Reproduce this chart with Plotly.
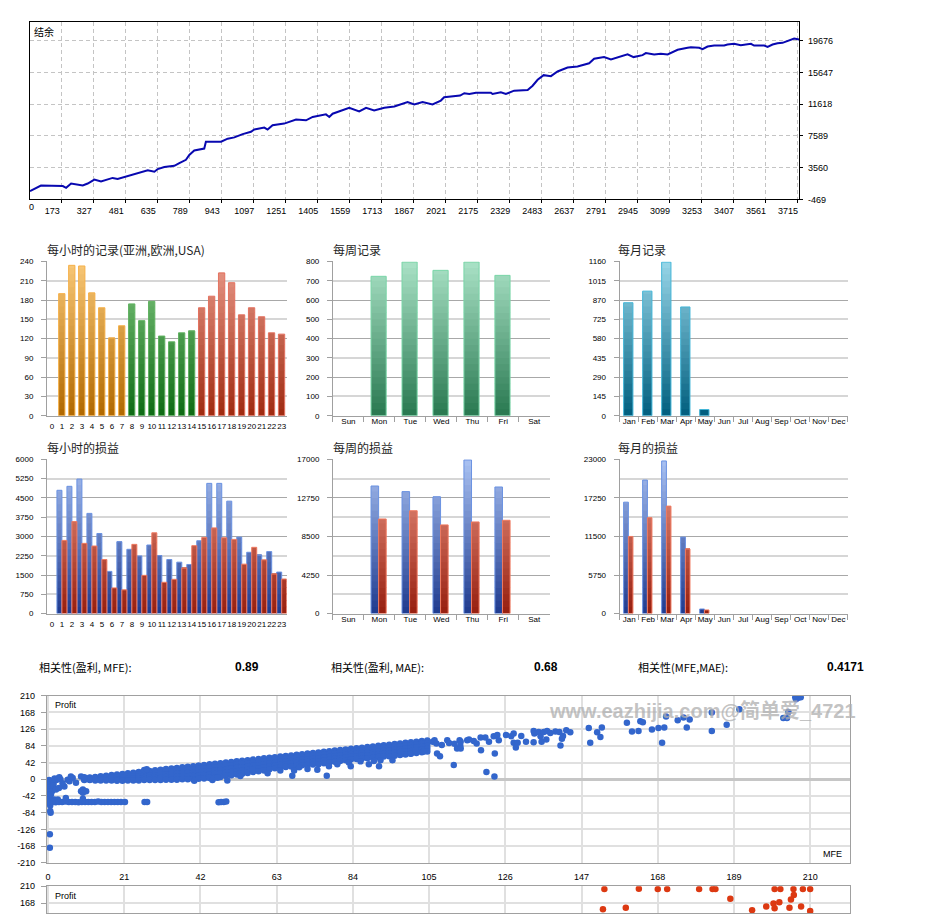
import plotly.graph_objects as go

W, H = 927, 918


def fx(p):
    return p / W


def fy(p):
    return 1 - p / H


SANS = "Liberation Sans, Arial, sans-serif"
CJK = "Noto Sans CJK SC, Noto Sans, sans-serif"

# ---------------- balance curve ----------------
BAL_TRADE = [22, 75, 180, 196, 220, 276, 300, 332, 364, 420, 444, 493, 589, 621, 637, 669, 717, 741, 773, 789,
             813, 861, 869, 885, 942, 974, 1006, 1046, 1086, 1102, 1150, 1166, 1190, 1246, 1303, 1351, 1383, 1447,
             1463, 1479, 1551, 1559, 1607, 1640, 1679, 1728, 1776, 1840, 1872, 1912, 1960, 2000, 2016, 2049, 2093,
             2113, 2137, 2169, 2241, 2249, 2289, 2313, 2353, 2418, 2442, 2466, 2495, 2530, 2562, 2610, 2658, 2714,
             2738, 2786, 2819, 2899, 2928, 2971, 2987, 3027, 3059, 3092, 3123, 3140, 3188, 3204, 3244, 3260, 3284,
             3316, 3364, 3380, 3412, 3444, 3493, 3508, 3557, 3573, 3597, 3621, 3645, 3669, 3701, 3725]
BAL_VALUE = [585, 1288, 1213, 999, 1539, 1288, 1539, 2041, 1790, 2254, 2129, 2468, 3221, 3045, 3384, 3635, 3798,
             4137, 4551, 5178, 5731, 5982, 6860, 6860, 6860, 7237, 7400, 7814, 8115, 8404, 8655, 8404, 8944, 9157,
             9659, 9571, 9998, 10324, 9998, 10412, 11040, 11165, 10700, 11165, 10826, 11165, 11328, 11880, 11579,
             11880, 11579, 12081, 12508, 12634, 12709, 13010, 12922, 13085, 13085, 12922, 13135, 12922, 13336,
             13424, 13963, 14716, 15306, 15180, 15770, 16273, 16398, 16812, 17402, 17603, 17314, 17942, 17603,
             17854, 18105, 17942, 18030, 17942, 18281, 18532, 18783, 18859, 18783, 18607, 18946, 19072, 19072,
             19197, 19285, 19109, 19285, 19072, 19072, 18908, 19197, 19360, 19411, 19611, 19950, 19825]
BAL_XTICKS = [173, 327, 481, 635, 789, 943, 1097, 1251, 1405, 1559, 1713, 1867, 2021, 2175, 2329, 2483, 2637,
              2791, 2945, 3099, 3253, 3407, 3561, 3715]
BAL_YTICKS = [-469, 3560, 7589, 11618, 15647, 19676]

# ---------------- bar charts ----------------
HOURS = [str(h) for h in range(24)]
HOUR_SESSION = ['亚洲'] * 8 + ['欧洲'] * 7 + ['USA'] * 9
HOUR_RECORDS = [0, 190, 234, 233, 191, 168, 121, 140, 174, 148, 178, 124, 115, 129, 132, 168, 186, 222, 207, 157,
                168, 154, 129, 127]
HOUR_PROFIT = [0, 4795, 4949, 5231, 3897, 3115, 1641, 2795, 2500, 2244, 2667, 2256, 2103, 2000, 1910, 2833, 5064,
               5064, 4372, 2974, 2385, 2269, 2410, 1615]
HOUR_LOSS = [0, 2846, 3577, 2731, 2628, 2103, 1000, 923, 2692, 1487, 3141, 1218, 1333, 1769, 2641, 2962, 3333,
             2949, 2885, 1923, 2577, 2090, 1538, 1346]

WEEKDAYS = ['Sun', 'Mon', 'Tue', 'Wed', 'Thu', 'Fri', 'Sat']
WEEK_RECORDS = [0, 723, 797, 754, 797, 728, 0]
WEEK_PROFIT = [0, 14058, 13440, 12859, 16927, 13949, 0]
WEEK_LOSS = [0, 10425, 11333, 9771, 10098, 10280, 0]

MONTHS = ['Jan', 'Feb', 'Mar', 'Apr', 'May', 'Jun', 'Jul', 'Aug', 'Sep', 'Oct', 'Nov', 'Dec']
MONTH_RECORDS = [850, 937, 1155, 818, 47, 0, 0, 0, 0, 0, 0, 0]
MONTH_PROFIT = [16611, 19904, 22754, 11402, 688, 0, 0, 0, 0, 0, 0, 0]
MONTH_LOSS = [11500, 14301, 16021, 9632, 541, 0, 0, 0, 0, 0, 0, 0]

HOUR_REC_TICKS = [0, 30, 60, 90, 120, 150, 180, 210, 240]
WEEK_REC_TICKS = [0, 100, 200, 300, 400, 500, 600, 700, 800]
MONTH_REC_TICKS = [0, 145, 290, 435, 580, 725, 870, 1015, 1160]
HOUR_PL_TICKS = [0, 750, 1500, 2250, 3000, 3750, 4500, 5250, 6000]
WEEK_PL_TICKS = [0, 4250, 8500, 12750, 17000]
MONTH_PL_TICKS = [0, 5750, 11500, 17250, 23000]

TITLES = ['每小时的记录(亚洲,欧洲,USA)', '每周记录', '每月记录', '每小时的损益', '每周的损益', '每月的损益']
CORR_LABELS = ['相关性(盈利, MFE):', '相关性(盈利, MAE):', '相关性(MFE,MAE):']
CORR_VALUES = ['0.89', '0.68', '0.4171']

# ---------------- scatter (MFE vs profit) ----------------
BAND_MFE = [10, 11.5, 13, 14.5, 16, 17.5, 19, 20.5, 22, 23.5, 25, 26.5, 28, 29.5, 31, 32.5, 34, 35.5, 37, 38.5,
            40, 41.5, 43, 44.5, 46, 47.5, 49, 50.5, 52, 53.5, 55, 56.5, 58, 59.5, 61, 62.5, 64, 65.5, 67, 68.5,
            70, 71.5, 73, 74.5, 76, 77.5, 79, 80.5, 82, 83.5, 85, 86.5, 88, 89.5, 91, 92.5, 94, 95.5, 97, 98.5,
            100, 101.5, 103, 104.5]
BAND_HI = [3, 4.5, 6, 7.5, 9, 10.5, 12, 13.5, 15, 16.5, 18, 19.5, 21, 22.5, 24, 25.5, 27, 28.5, 30, 31.5,
           33, 34.5, 36, 37.5, 39, 40.5, 42, 43.5, 45, 46.5, 48, 49.5, 51, 52.5, 54, 55.5, 57, 58.5, 60, 61.5,
           63, 64.5, 66, 67.5, 69, 70.5, 72, 73.5, 75, 76.5, 78, 79.5, 81, 82.5, 84, 85.5, 87, 88.5, 90, 91.5,
           93, 94.5, 96, 97.5]
BAND_Q3 = [1.8, 2.9, 3.8, 4.9, 6, 7.2, 8, 9.2, 10.5, 11.7, 12.8, 14.2, 15.2, 16.4, 17.5, 18.9, 20, 21.2, 22.5,
           23.7, 24.8, 26.2, 27.5, 28.9, 30.5, 31.9, 33.5, 35.2, 36.8, 38.4, 40, 41.7, 43.2, 44.9, 46.8, 48.7,
           50.2, 51.7, 53, 54.7, 56, 57.4, 58.8, 60.2, 61.8, 63.4, 65, 66.7, 68.2, 69.9, 71.2, 72.7, 74, 75.4, 77,
           78.4, 79.8, 81.2, 82.8, 84.2, 85.8, 87.4, 89, 90.7]
BAND_MID = [0.5, 1.2, 1.5, 2.2, 3, 3.8, 4, 4.8, 6, 6.8, 7.5, 8.8, 9.5, 10.2, 11, 12.2, 13, 13.8, 15, 15.8,
            16.5, 17.8, 19, 20.2, 22, 23.2, 25, 26.8, 28.5, 30.2, 32, 33.8, 35.5, 37.2, 39.5, 41.8, 43.5, 44.8,
            46, 47.8, 49, 50.2, 51.5, 52.8, 54.5, 56.2, 58, 59.8, 61.5, 63.2, 64.5, 65.8, 67, 68.2, 70, 71.2,
            72.5, 73.8, 75.5, 76.8, 78.5, 80.2, 82, 83.8]
BAND_Q1 = [-0.8, -0.4, -0.8, -0.4, 0, 0.4, 0, 0.4, 1.5, 1.9, 2.2, 3.4, 3.8, 4.1, 4.5, 5.6, 6, 6.4, 7.5, 7.9,
           8.2, 9.4, 10.5, 11.6, 13.5, 14.6, 16.5, 18.4, 20.2, 22.1, 24, 25.9, 27.8, 29.6, 32.2, 34.9, 36.8, 37.9,
           39, 40.9, 42, 43.1, 44.2, 45.4, 47.2, 49.1, 51, 52.9, 54.8, 56.6, 57.8, 58.9, 60, 61.1, 63, 64.1,
           65.2, 66.4, 68.2, 69.4, 71.2, 73.1, 75, 76.9]
BAND_LO = [-2, -2, -3, -3, -3, -3, -4, -4, -3, -3, -3, -2, -2, -2, -2, -1, -1, -1, 0, 0,
           0, 1, 2, 3, 5, 6, 8, 10, 12, 14, 16, 18, 20, 22, 25, 28, 30, 31, 32, 34,
           35, 36, 37, 38, 40, 42, 44, 46, 48, 50, 51, 52, 53, 54, 56, 57, 58, 59, 61, 62,
           64, 66, 68, 70]
NEAR_ZERO = [(0.3, -2), (0.3, -8), (0.5, -14), (0.4, -20), (0.6, -26), (0.4, -32), (0.5, -38), (0.3, -44),
             (0.5, -50), (0.5, -62), (0.6, -66), (0.6, -80), (0.7, -84), (0.5, -138), (0.5, -172), (1.2, -4),
             (1.5, -10), (1.8, 2), (2.3, -2), (2.7, 2), (1.1, -30), (1.5, -16), (2.2, -26), (0.8, -38),
             (1.7, -51), (2.7, -51), (4.9, -47), (3.1, 5), (3.4, 0), (4.5, -18), (5.4, -1), (5.9, -5), (6.3, 7),
             (6.8, 3), (7.7, -9), (9.1, -30), (9.6, -34), (9.6, -26), (10.5, -30), (9.6, -49), (9.1, 7),
             (10, 5), (4, -10), (3, -22)]
LINE_57 = [(0.3, -57), (1.2, -57), (2.1, -58), (3, -57), (3.9, -57), (4.8, -56), (5.7, -57), (6.6, -57),
           (7.5, -57), (8.4, -58), (9.3, -57), (10.2, -57), (11.1, -57), (12, -57), (12.9, -57), (13.8, -56),
           (14.7, -57), (15.6, -57), (16.5, -57), (17.4, -57), (18.3, -57), (19.2, -57), (20.1, -57),
           (21.2, -57), (26.6, -57), (27.3, -57), (47, -58), (47.7, -57), (48.4, -57), (49.1, -56)]
BAND_OUT = [(26.5, 23), (27.2, 25), (40.3, -4), (44.4, 5), (45.3, -2), (46.7, 4), (49.4, -3), (52.7, 14),
            (53, 8), (56.3, 25), (60.5, 15), (64, 22), (67.3, 9), (67.8, 22), (69.2, 30), (71.5, 26),
            (74.2, 24), (76.8, 9), (77.4, 33), (79.7, 38), (82.9, 42), (83.4, 33), (86.1, 45), (88.4, 38),
            (89.8, 46), (91.2, 33), (91.6, 48), (94.9, 48), (97.2, 69), (99.9, 65), (101.3, 73), (103.4, 69),
            (106, 94), (106.5, 98), (107, 90), (107.2, 65), (108, 58), (108.5, 86), (110, 98), (110.5, 91),
            (111.8, 36), (112, 89), (112.7, 77), (113.4, 98), (113.6, 84)]
HIGH_SPARSE = [(113.7, 94), (113.7, 77), (115.5, 98), (116, 100), (117.3, 96), (118.1, 90), (119.2, 105),
               (119.3, 73), (120.5, 105), (120.8, 18), (121.5, 94), (122.8, 108), (123, 7), (123.1, 65),
               (123.8, 111), (124.2, 98), (126.2, 111), (127.6, 108), (128.3, 92), (128.3, 115), (128.9, 80),
               (129.4, 92), (130.4, 109), (131.7, 94), (133.8, 121), (134, 115), (133.8, 93), (135.2, 119),
               (135.7, 108), (136, 94), (136.6, 119), (137.3, 100), (137.5, 121), (138.4, 116), (139.8, 120),
               (140.9, 119), (141.2, 85), (141.6, 102), (141.9, 109), (142.8, 123), (143.9, 118), (149, 129),
               (149.4, 92), (151.3, 118), (152.2, 106), (152.6, 130), (159.5, 142), (160.9, 120), (162.7, 121),
               (163.2, 146), (163.9, 143), (166.4, 125), (168.2, 129), (169.2, 92), (169.8, 130), (170.3, 158),
               (173.5, 148), (175.1, 155), (176, 130), (176.8, 150), (182.9, 168), (182.9, 121), (187, 137),
               (190.5, 176), (202.6, 154), (203.6, 154), (204, 169), (205.9, 206), (206.5, 204), (207, 206),
               (207.4, 206), (206.1, 201)]
RED_POINTS = [(153.3, 203), (162.8, 204), (168, 203), (170.6, 203), (179.4, 203), (183.1, 203), (183.9, 203),
              (200.2, 203), (201.8, 203), (205.4, 203), (208, 203), (210, 203), (188, 179), (205.5, 188),
              (204.7, 177), (201.5, 170), (199.9, 167), (197.9, 159), (200.2, 155), (204.3, 156), (207.5, 159),
              (152.9, 152), (159.2, 156), (194, 150), (210, 148)]
SCAT_XTICKS = [0, 21, 42, 63, 84, 105, 126, 147, 168, 189, 210]
SCAT_YTICKS = [-210, -168, -126, -84, -42, 0, 42, 84, 126, 168, 210]
WATERMARK = 'www.eazhijia.com@简单爱_4721'

# ---------------- styles ----------------
PAL = {
    '亚洲': ((176, 104, 0), (248, 200, 120), '#f6b048'),
    '欧洲': ((14, 106, 20), (130, 200, 130), '#62b262'),
    'USA': ((158, 42, 16), (232, 152, 136), '#e47260'),
    'week': ((40, 120, 80), (170, 226, 198), '#7ad6a8'),
    'month': ((0, 94, 126), (152, 214, 232), '#44b6d8'),
    'profit': ((30, 58, 142), (170, 194, 242), '#6a92e2'),
    'loss': ((150, 30, 14), (240, 158, 140), '#f07a60'),
}
AX = '#a0a0a0'
DARK = '#a8a8a8'
LIGHT = '#d6d6d6'
K = 24

fig = go.Figure()


def mix(c0, c1, t):
    return 'rgb(%d,%d,%d)' % tuple(int(round(a + (b - a) * t)) for a, b in zip(c0, c1))


def gradient_bars(n, cats, values, ymax, pals, offset, width):
    seg_h = ymax / K
    eps = ymax / 156 * 0.8  # slight overlap between gradient bands (no seams)
    for k in range(K):
        seg = [(min(v, (k + 1) * seg_h + eps) - k * seg_h) if v > k * seg_h else None for v in values]
        t = (k + 0.5) / K
        fig.add_trace(go.Bar(x=cats, y=seg, base=[k * seg_h] * len(cats), offset=offset, width=width,
                             marker=dict(color=[mix(p[0], p[1], t) for p in pals], line=dict(width=0)),
                             xaxis='x%d' % n, yaxis='y%d' % n, hoverinfo='skip', showlegend=False))
    fig.add_trace(go.Bar(x=cats, y=[v if v > 0 else None for v in values], base=[0] * len(cats), offset=offset,
                         width=width,
                         marker=dict(color='rgba(0,0,0,0)', line=dict(color=[p[2] for p in pals], width=1)),
                         xaxis='x%d' % n, yaxis='y%d' % n, hoverinfo='skip', showlegend=False))


# balance line
fig.add_trace(go.Scatter(x=BAL_TRADE, y=BAL_VALUE, mode='lines', line=dict(color='#0808b0', width=2),
                         xaxis='x', yaxis='y', hoverinfo='skip', showlegend=False))

# bars
gradient_bars(2, HOURS, HOUR_RECORDS, HOUR_REC_TICKS[-1], [PAL[s] for s in HOUR_SESSION], -0.33, 0.63)
gradient_bars(3, WEEKDAYS, WEEK_RECORDS, WEEK_REC_TICKS[-1], [PAL['week']] * 7, -0.27, 0.49)
gradient_bars(4, MONTHS, MONTH_RECORDS, MONTH_REC_TICKS[-1], [PAL['month']] * 12, -0.29, 0.49)
gradient_bars(5, HOURS, HOUR_PROFIT, HOUR_PL_TICKS[-1], [PAL['profit']] * 24, -0.5, 0.5)
gradient_bars(5, HOURS, HOUR_LOSS, HOUR_PL_TICKS[-1], [PAL['loss']] * 24, 0.0, 0.5)
gradient_bars(6, WEEKDAYS, WEEK_PROFIT, WEEK_PL_TICKS[-1], [PAL['profit']] * 7, -0.27, 0.245)
gradient_bars(6, WEEKDAYS, WEEK_LOSS, WEEK_PL_TICKS[-1], [PAL['loss']] * 7, -0.025, 0.245)
gradient_bars(7, MONTHS, MONTH_PROFIT, MONTH_PL_TICKS[-1], [PAL['profit']] * 12, -0.29, 0.25)
gradient_bars(7, MONTHS, MONTH_LOSS, MONTH_PL_TICKS[-1], [PAL['loss']] * 12, -0.04, 0.24)

# overlay label axes need a (empty) trace each
for n in (2, 3, 4, 5):
    fig.add_trace(go.Scatter(x=[], y=[], xaxis='x%d' % n, yaxis='y%d' % (10 + n), showlegend=False,
                             hoverinfo='skip'))

# scatter
pts = (list(zip(BAND_MFE, BAND_HI)) + list(zip(BAND_MFE, BAND_Q3)) + list(zip(BAND_MFE, BAND_MID))
       + list(zip(BAND_MFE, BAND_Q1)) + list(zip(BAND_MFE, BAND_LO))
       + NEAR_ZERO + LINE_57 + BAND_OUT + HIGH_SPARSE)
fig.add_trace(go.Scatter(x=[p[0] for p in pts], y=[p[1] for p in pts], mode='markers',
                         marker=dict(size=6.5, color='#3366cc', line=dict(width=0)),
                         xaxis='x8', yaxis='y8', hoverinfo='skip', showlegend=False))
fig.add_trace(go.Scatter(x=[p[0] for p in RED_POINTS], y=[p[1] for p in RED_POINTS], mode='markers',
                         marker=dict(size=6.5, color='#dc3912', line=dict(width=0)),
                         xaxis='x9', yaxis='y9', hoverinfo='skip', showlegend=False))

layout = dict(
    width=W, height=H, margin=dict(l=0, r=0, t=0, b=0), paper_bgcolor='white', plot_bgcolor='white',
    barmode='overlay', showlegend=False, font=dict(family=SANS, size=10, color='#000'),
)

balfont = dict(family=SANS, size=9, color='#000')
layout['xaxis'] = dict(domain=[fx(29), fx(799)], anchor='y', range=[22, 3725], tickmode='array',
                       tickvals=BAL_XTICKS, ticktext=[str(v) for v in BAL_XTICKS], ticklabelshift=-9,
                       showgrid=True, gridcolor='#c4c4c4', griddash='4px,3px', gridwidth=1,
                       showline=True, linecolor='#000', linewidth=1, mirror=True, ticks='outside', ticklen=3,
                       tickcolor='#000', zeroline=False, tickfont=balfont, tickangle=0)
layout['yaxis'] = dict(domain=[fy(196.5), fy(16.7)], anchor='x', side='right', range=[-469, 22120],
                       tickmode='array', tickvals=BAL_YTICKS, ticktext=[str(v) for v in BAL_YTICKS],
                       showgrid=True, gridcolor='#c4c4c4', griddash='4px,3px', gridwidth=1,
                       showline=True, linecolor='#000', linewidth=1, mirror=True, ticks='outside', ticklen=3,
                       tickcolor='#000', zeroline=False, tickfont=balfont, ticklabelstandoff=3)

XDOMS = {2: (46, 286), 3: (332.3, 549.3), 4: (619.3, 847.7), 5: (46, 286), 6: (332.3, 549.3), 7: (619.3, 847.7)}
YDOMS = {2: (259.3, 415.3), 3: (259.3, 415.3), 4: (259.3, 415.3), 5: (459.3, 615.3), 6: (459.3, 615.3),
         7: (459.3, 615.3)}
CATS = {2: HOURS, 3: WEEKDAYS, 4: MONTHS, 5: HOURS, 6: WEEKDAYS, 7: MONTHS}
TICKS = {2: HOUR_REC_TICKS, 3: WEEK_REC_TICKS, 4: MONTH_REC_TICKS, 5: HOUR_PL_TICKS, 6: WEEK_PL_TICKS,
         7: MONTH_PL_TICKS}
tickfont = dict(family=SANS, size=8, color='#000')

for n in range(2, 8):
    cats = CATS[n]
    xa = dict(domain=[fx(XDOMS[n][0]), fx(XDOMS[n][1])], anchor='y%d' % n, type='category',
              categoryorder='array', categoryarray=cats, range=[-0.5, len(cats) - 0.5], showgrid=False,
              zeroline=False, showline=True, linecolor=AX, linewidth=1, tickfont=tickfont, tickangle=0,
              tickmode='array', tickvals=cats, ticktext=cats)
    if cats is HOURS:
        xa.update(ticks='', ticklabelstandoff=3)
    else:
        xa.update(ticks='outside', tickson='boundaries', ticklen=5, tickcolor=AX, ticklabelstandoff=-2)
    layout['xaxis%d' % n] = xa
    ticks = TICKS[n]
    ymax = ticks[-1]
    ya = dict(domain=[fy(YDOMS[n][1]), fy(YDOMS[n][0])], anchor='x%d' % n, range=[0, ymax], zeroline=False,
              showgrid=True, gridcolor=DARK, gridwidth=1)
    if n in (6, 7):
        light = [(a + b) / 2 for a, b in zip(ticks, ticks[1:])]
        ya.update(tickmode='array', tickvals=ticks, ticktext=[str(v) for v in ticks], ticks='outside',
                  ticklen=5, tickcolor=AX, showline=True, linecolor=AX, tickfont=tickfont, ticklabelstandoff=6,
                  minor=dict(tickmode='array', tickvals=light, showgrid=True, gridcolor=LIGHT, gridwidth=2,
                             ticks=''))
    else:
        ya.update(tickmode='array', tickvals=ticks[::2], showticklabels=False, ticks='', showline=False,
                  minor=dict(tickmode='array', tickvals=ticks[1::2], showgrid=True, gridcolor=LIGHT,
                             gridwidth=2, ticks=''))
        layout['yaxis%d' % (10 + n)] = dict(overlaying='y%d' % n, anchor='x%d' % n, side='left',
                                            range=[0, ymax], tickmode='array', tickvals=ticks,
                                            ticktext=[str(v) for v in ticks], ticks='outside', ticklen=5,
                                            tickcolor=AX, showgrid=False, showline=True, linecolor=AX,
                                            zeroline=False, tickfont=tickfont, ticklabelstandoff=6)
    layout['yaxis%d' % n] = ya

sfont = dict(family=SANS, size=9, color='#000')
layout['xaxis8'] = dict(domain=[fx(46), fx(850)], anchor='y8', range=[-0.3, 221], tickmode='array',
                        tickvals=SCAT_XTICKS, ticktext=[str(v) for v in SCAT_XTICKS], showgrid=True,
                        gridcolor='#e0e0e0', gridwidth=2, zeroline=False, showline=True, linecolor=AX,
                        mirror=True, ticks='', tickfont=sfont, ticklabelstandoff=5)
layout['yaxis8'] = dict(domain=[fy(867.3), fy(698.3)], anchor='x8', range=[-210, 210], tickmode='array',
                        tickvals=SCAT_YTICKS, ticktext=[str(v) for v in SCAT_YTICKS], showgrid=True,
                        gridcolor='#e0e0e0', gridwidth=2, zeroline=True, zerolinecolor='#c6c6c6',
                        zerolinewidth=3, showline=True, linecolor=AX, mirror=True, ticks='outside', ticklen=5,
                        tickcolor=AX, tickfont=sfont, ticklabelstandoff=4)
layout['xaxis9'] = dict(domain=[fx(46), fx(850)], anchor='y9', range=[-0.3, 221], tickmode='array',
                        tickvals=SCAT_XTICKS, showticklabels=False, showgrid=True, gridcolor='#e0e0e0',
                        gridwidth=2, zeroline=False, showline=True, linecolor=AX, mirror=True, ticks='')
layout['yaxis9'] = dict(domain=[0, fy(891)], anchor='x9', range=[142.9, 210], tickmode='array',
                        tickvals=[168, 210], ticktext=['168', '210'], showgrid=True, gridcolor='#e0e0e0',
                        gridwidth=2, zeroline=False, showline=True, linecolor=AX, mirror=True, ticks='outside',
                        ticklen=5, tickcolor=AX, tickfont=sfont, ticklabelstandoff=4)

ann = []


def text(x, y, s, font, xanchor='left'):
    ann.append(dict(x=fx(x), y=fy(y), xref='paper', yref='paper', text=s, showarrow=False, xanchor=xanchor,
                    yanchor='middle', font=font, borderpad=0))


text(32, 26.5, '结余', dict(family=CJK, size=10, color='#000'))
text(31, 204, '0', balfont, 'center')
title_font = dict(family=CJK, size=12, color='#1e1e1e')
for (x, y), s in zip([(45, 247), (331, 247), (617, 247), (45, 447), (331, 447), (617, 447)], TITLES):
    text(x, y, s, title_font)
for x, s in zip([37, 329, 637], CORR_LABELS):
    text(x, 669, s, dict(family=CJK, size=11, color='#000'))
for x, s in zip([233, 533, 826], CORR_VALUES):
    text(x, 669, '<b>%s</b>' % s, dict(family=SANS, size=12, color='#000'))
text(53, 708, 'Profit', sfont)
text(53, 901, 'Profit', sfont)
text(843, 858.5, 'MFE', sfont, 'right')
text(548, 714, '<b>%s</b>' % WATERMARK, dict(family='Liberation Sans, Noto Sans CJK SC, sans-serif', size=20,
                                            color='rgba(175,175,175,0.75)'))
layout['annotations'] = ann

fig.update_layout(**layout)
fig.write_html('out.html')
